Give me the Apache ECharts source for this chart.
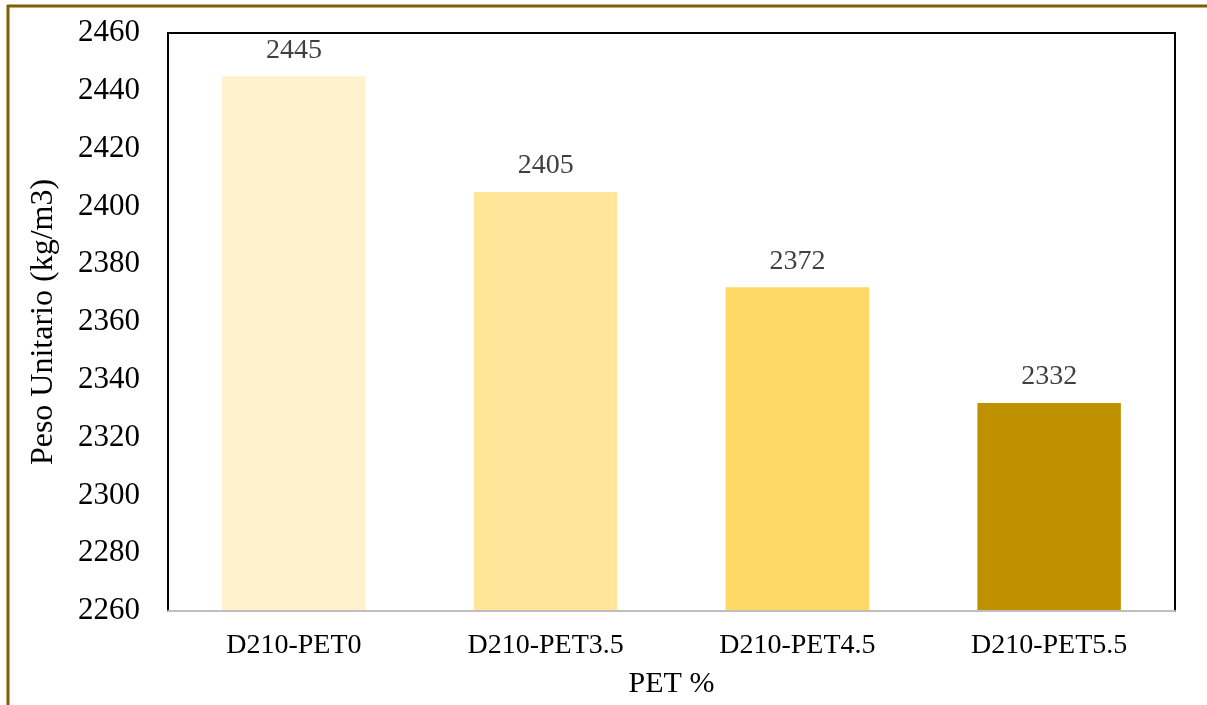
<!DOCTYPE html>
<html>
<head>
<meta charset="utf-8">
<script src="https://cdn.jsdelivr.net/npm/echarts@6/dist/echarts.min.js"></script>
<style>
  html, body { margin: 0; padding: 0; background: #fff; }
  #chart { width: 1207px; height: 705px; }
</style>
</head>
<body>
<div id="chart"></div>
<script>
// Unit weight of concrete mixes by PET content
const categories = ['D210-PET0', 'D210-PET3.5', 'D210-PET4.5', 'D210-PET5.5'];
const pesoUnitario = [2445, 2405, 2372, 2332];
const barColors = ['#FFF2CC', '#FFE699', '#FFD966', '#BF9000'];
const yMin = 2260, yMax = 2460, yStep = 20;

const serif = '"Liberation Serif", "Times New Roman", serif';
const chart = echarts.init(document.getElementById('chart'));

chart.setOption({
  animation: false,
  backgroundColor: '#fff',
  grid: {
    left: 168, right: 32, top: 33, bottom: 94,
    outerBoundsMode: 'none', containLabel: false,
    show: true, borderColor: '#000', borderWidth: 2, backgroundColor: 'transparent'
  },
  graphic: [
    // gold frame along the top and left edges
    { type: 'line', shape: { x1: 7, y1: 6, x2: 1207, y2: 6 }, style: { stroke: '#7F6000', lineWidth: 3 }, z: 100 },
    { type: 'line', shape: { x1: 8, y1: 5, x2: 8, y2: 705 }, style: { stroke: '#7F6000', lineWidth: 3 }, z: 100 }
  ],
  xAxis: {
    type: 'category',
    data: categories,
    name: 'PET %',
    nameLocation: 'middle',
    nameGap: 58,
    nameTextStyle: { fontFamily: serif, fontSize: 30, color: '#000' },
    axisLine: { show: true, lineStyle: { color: '#BFBFBF', width: 2 }, onZero: false },
    axisTick: { show: false },
    axisLabel: { fontFamily: serif, fontSize: 28, color: '#000', margin: 21 },
    z: 10
  },
  yAxis: {
    type: 'value',
    min: yMin, max: yMax, interval: yStep,
    name: 'Peso Unitario (kg/m3)',
    nameLocation: 'middle',
    nameGap: 108,
    nameTextStyle: { fontFamily: serif, fontSize: 32, color: '#000' },
    axisLine: { show: false },
    axisTick: { show: false },
    splitLine: { show: false },
    axisLabel: { fontFamily: serif, fontSize: 31, color: '#000', margin: 28, formatter: v => String(v) }
  },
  series: [{
    type: 'bar',
    barWidth: '57%',
    data: pesoUnitario.map((v, i) => ({ value: v, itemStyle: { color: barColors[i] } })),
    label: {
      show: true, position: 'top', distance: 12,
      fontFamily: serif, fontSize: 28, color: '#404040'
    }
  }]
});
</script>
</body>
</html>
